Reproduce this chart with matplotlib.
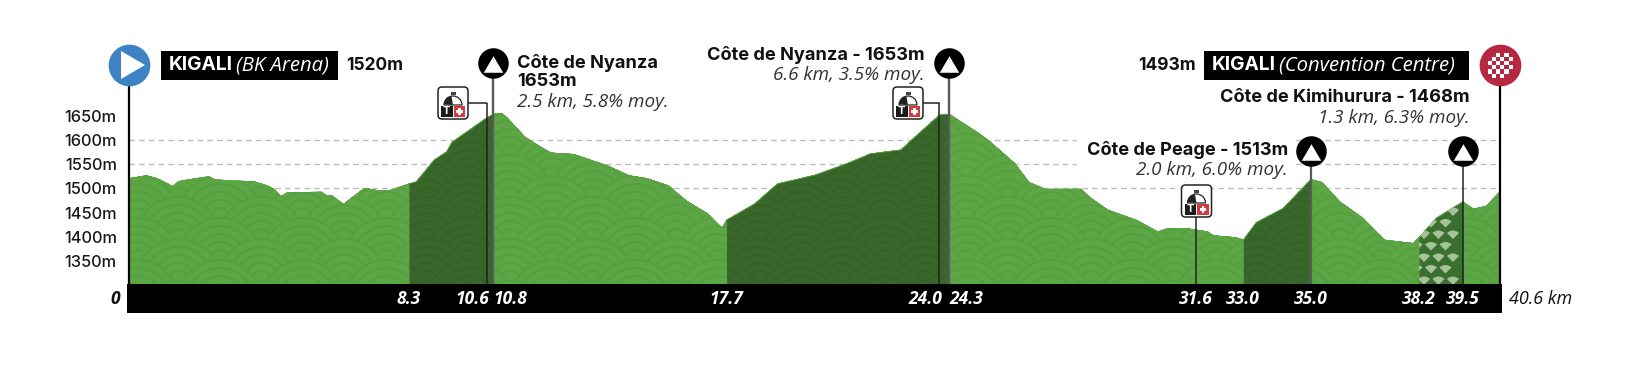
#!/usr/bin/env python3
# -*- coding: utf-8 -*-

import numpy as np
import matplotlib
matplotlib.use('Agg')
import matplotlib.pyplot as plt
from matplotlib.patches import Circle, FancyBboxPatch, Polygon, Rectangle, Wedge
from matplotlib.transforms import Affine2D, blended_transform_factory

plt.rcParams['font.family'] = ['Inter', 'Lato', 'DejaVu Sans']
ITALIC = ['Open Sans', 'Lato', 'DejaVu Sans']

# profile
km = [0, 0.53, 0.85, 1.30, 1.48, 1.90, 2.38, 2.54, 3.07, 3.70, 4.12, 4.33, 4.51, 4.70,
      5.71, 5.87, 6.03, 6.36, 6.98, 7.40, 7.77, 8.30, 8.51, 9.04, 9.41, 9.57, 9.94,
      10.57, 10.80, 11.05, 11.20, 11.73, 12.18, 12.50, 13.18, 14.19, 14.82, 15.35,
      15.99, 16.51, 17.15, 17.57, 17.70, 18.52, 19.21, 20.32, 21.27, 21.96, 22.86,
      23.28, 24.00, 24.30, 25.18, 25.50, 26.24, 26.66, 27.14, 28.20, 28.46, 28.99,
      29.84, 30.47, 30.73, 31.31, 31.95, 32.11, 32.79, 33.00, 33.38, 34.17, 35.00,
      35.33, 35.86, 36.49, 37.18, 38.03, 38.20, 38.71, 39.50, 39.82, 40.19, 40.60]
elevation = [1521, 1527, 1521, 1505, 1515, 1520, 1525, 1519, 1516, 1515, 1506, 1498, 1484, 1492,
             1493, 1485, 1485, 1468, 1501, 1496, 1497, 1510, 1514, 1559, 1576, 1596, 1614,
             1645, 1654, 1656, 1647, 1607, 1587, 1574, 1571, 1547, 1527, 1521,
             1506, 1475, 1448, 1419, 1435, 1468, 1510, 1528, 1552, 1572, 1580,
             1607, 1652, 1654, 1614, 1597, 1552, 1513, 1499, 1499, 1482, 1456,
             1435, 1411, 1417, 1418, 1411, 1403, 1399, 1394, 1430, 1459, 1519,
             1513, 1473, 1442, 1394, 1387, 1399, 1439, 1473, 1458, 1464, 1494]

y_ticks = [1350, 1400, 1450, 1500, 1550, 1600, 1650]
grid_levels = [1500, 1550, 1600]
climbs = [(8.3, 10.8), (17.7, 24.3), (33.0, 35.0)]
steep_climb = (38.2, 39.5)
total_km = 40.6
bar_labels = [(8.3, '8.3', 'center'), (10.6, '10.6', 'right'), (10.8, '10.8', 'left'),
              (17.7, '17.7', 'center'), (24.0, '24.0', 'right'), (24.3, '24.3', 'left'),
              (31.6, '31.6', 'center'), (33.0, '33.0', 'center'), (35.0, '35.0', 'center'),
              (38.2, '38.2', 'center'), (39.5, '39.5', 'center')]

GREEN = '#5ca646'
RING = '#56a040'
W, H = 1648, 370
BASE_Y = 284.3

fig = plt.figure(figsize=(W / 100, H / 100), dpi=100, facecolor='white')
ax = fig.add_axes([128.6 / W, (H - BASE_Y) / H, 1371.4 / W, 173.3 / H])
ax.set_xlim(0, total_km)
ax.set_ylim(1302, 1660)
for s in ax.spines.values():
    s.set_visible(False)
ax.set_xticks([])
ax.set_yticks(y_ticks)
ax.set_yticklabels([f'{v}m' for v in y_ticks], fontsize=11.8, color='#1a1a1a', fontweight='medium')
ax.tick_params(axis='y', length=0, pad=8.5)

# layout helpers: px is figure pixels from top left, kx is km across and pixels down
px = Affine2D().scale(1, -1).translate(0, H)
flip = Affine2D().scale(1, -1) + px
kx = blended_transform_factory(ax.transData, px)

km = np.array(km)
elevation = np.array(elevation)

# grid behind the profile, with a gap behind the Peage label
ax.hlines(grid_levels, 0, total_km, color='#bdbdbd', lw=1, linestyles=(0, (4, 3)), zorder=1)
ax.add_patch(Rectangle((1077, 132), 218, 46, transform=px, fc='white', ec='none', zorder=1.5, clip_on=False))

area = ax.fill_between(km, 1302, elevation, color=GREEN, lw=0, zorder=2)
area_path = area.get_paths()[0]

# scale pattern, painted top row first so lower rows overlap it
z = 2.1
for row, cy in enumerate(np.arange(113, 330, 21)):
    off = 178 if row % 2 == 0 else 220
    for cx in np.arange(off - 83, 1600, 83):
        for r in (42, 34, 26, 18, 10):
            c = Circle((cx, cy), r, transform=px, fc=GREEN, ec=RING, lw=1.4, zorder=z)
            ax.add_patch(c)
            c.set_clip_path(area_path, ax.transData)
            z += 1e-5

# climbs
for start, end in climbs:
    m = (km >= start) & (km <= end)
    ax.fill_between(km[m], 1302, elevation[m], color='black', alpha=0.38, lw=0, zorder=3)

# steepest part, fans on dark green
m = (km >= steep_climb[0]) & (km <= steep_climb[1])
steep = ax.fill_between(km[m], 1302, elevation[m], color='#3a6f2e', lw=0, zorder=3.1)
steep_path = steep.get_paths()[0]
for row, cy in enumerate(np.arange(212, 296, 11.5)):
    start = 1395 if row % 2 == 0 else 1402
    for cx in np.arange(start, 1460, 14.5):
        fan = Wedge((cx, -(cy + 4)), 8.5, 45, 135, transform=flip, fc='#a6c29a', ec='none', zorder=3.2)
        ax.add_patch(fan)
        fan.set_clip_path(steep_path, ax.transData)

# black distance bar
ax.add_patch(Rectangle((127, BASE_Y), 1375, 28.5, transform=px, fc='black', ec='none', zorder=4, clip_on=False))
for x, lab, ha in bar_labels:
    dx = {'right': 3, 'left': 0, 'center': 0}[ha]
    t = Affine2D().translate(dx, 0)
    ax.text(x, 299, lab, transform=kx + t, ha=ha, va='center', color='white', fontsize=12.5,
            fontweight='bold', fontstyle='italic', family=ITALIC, zorder=5)
ax.text(115, 299, '0', transform=px, ha='center', va='center', fontsize=12.5, fontweight='bold',
        fontstyle='italic', family=ITALIC, color='#111111', clip_on=False)
ax.text(1509, 299, '40.6 km', transform=px, ha='left', va='center', fontsize=13, fontstyle='italic',
        family=ITALIC, color='#111111', clip_on=False)


def vline(x, top, color='#222222', lw=1.2, zorder=3.5):
    ax.plot([x, x], [top, BASE_Y], transform=kx, color=color, lw=lw, zorder=zorder, clip_on=False,
            solid_capstyle='butt')


def climb_marker(x, y):
    ax.plot([x], [y], 'o', transform=kx, ms=22, mfc='black', mec='none', zorder=6, clip_on=False)
    ax.plot([x], [y + 1], marker=[(-1, -0.85), (1, -0.85), (0, 0.85)], transform=kx, ms=14, mfc='white',
            mec='none', zorder=7, clip_on=False)


def sprint_icon(cx, cy):
    ax.add_patch(FancyBboxPatch((cx - 13.5, cy - 14.5), 27, 29, boxstyle='round,pad=1.5,rounding_size=4',
                                transform=px, fc='white', ec='#222222', lw=1.1, zorder=6, clip_on=False))
    ax.add_patch(Wedge((cx, -(cy + 2)), 9, 0, 180, transform=flip, fc='white',
                       ec='#222222', lw=0.9, zorder=6.1, clip_on=False))
    ax.add_patch(Wedge((cx, -(cy + 2)), 9, 100, 175, transform=flip, fc='#222222',
                       ec='none', zorder=6.2, clip_on=False))
    ax.add_patch(Rectangle((cx - 2.5, cy - 11.5), 5, 3, transform=px, fc='#444444', ec='none', zorder=6.2, clip_on=False))
    ax.add_patch(Rectangle((cx - 12, cy + 3), 11.5, 10.5, transform=px, fc='#1a1a1a', ec='none', zorder=6.3, clip_on=False))
    ax.text(cx - 6.2, cy + 8.5, 'T', transform=px, ha='center', va='center', color='white', fontsize=8,
            fontweight='bold', zorder=6.4)
    ax.add_patch(Rectangle((cx + 0.5, cy + 3), 11.5, 10.5, transform=px, fc='#d63a3f', ec='none', zorder=6.3, clip_on=False))
    ax.add_patch(Rectangle((cx + 5, cy + 5), 2.5, 6.5, transform=px, fc='white', ec='none', zorder=6.4, clip_on=False))
    ax.add_patch(Rectangle((cx + 3, cy + 7), 6.5, 2.5, transform=px, fc='white', ec='none', zorder=6.4, clip_on=False))


# start and finish
vline(0, 65, color='black', lw=1.6)
vline(total_km, 65, color='black', lw=1.6)
ax.plot([0], [65], 'o', transform=kx, ms=30, mfc='#3d83c4', mec='none', zorder=6, clip_on=False)
ax.add_patch(Polygon([(121, 51), (121, 79), (145, 65)], transform=px, fc='white', ec='none', zorder=7, clip_on=False))
ax.plot([total_km], [65], 'o', transform=kx, ms=30, mfc='#b5283f', mec='none', zorder=6, clip_on=False)
for i in range(6):
    for j in range(6):
        if (i + j) % 2 == 0 and (i, j) not in [(0, 0), (5, 5)]:
            ax.add_patch(Rectangle((1487.5 + i * 4.2, 52.5 + j * 4.2), 4.2, 4.2, transform=px, fc='white',
                                   ec='none', zorder=7, clip_on=False))

# header boxes
ax.add_patch(Rectangle((160.7, 50.5), 177, 29, transform=px, fc='black', ec='none', zorder=6, clip_on=False))
ax.add_patch(Rectangle((1203.5, 50.5), 265, 29, transform=px, fc='black', ec='none', zorder=6, clip_on=False))
ax.text(168.5, 65, 'KIGALI', transform=px, ha='left', va='center', color='white', fontsize=13.8,
        fontweight='bold', zorder=7)
ax.text(236, 65, '(BK Arena)', transform=px, ha='left', va='center', color='white', fontsize=14.6,
        fontstyle='italic', family=ITALIC, zorder=7)
ax.text(1211.5, 65, 'KIGALI', transform=px, ha='left', va='center', color='white', fontsize=13.8,
        fontweight='bold', zorder=7)
ax.text(1279, 65, '(Convention Centre)', transform=px, ha='left', va='center', color='white', fontsize=14.6,
        fontstyle='italic', family=ITALIC, zorder=7)
ax.text(346, 65, '1520m', transform=px, ha='left', va='center', fontsize=12.5, fontweight='bold', color='#111111')
ax.text(1196, 65, '1493m', transform=px, ha='right', va='center', fontsize=12.5, fontweight='bold', color='#111111')

# climb markers
vline(10.8, 63, color='#5a5a5a', lw=1.7)
vline(24.3, 63, color='#5a5a5a', lw=1.7)
vline(35.0, 151, color='#5a5a5a', lw=1.6)
vline(39.5, 151, color='#222222', lw=1.1)
climb_marker(10.8, 63)
climb_marker(24.3, 63)
climb_marker(35.0, 151)
climb_marker(39.5, 151)

# sprint markers
for x, cx in [(10.6, 453), (24.0, 908)]:
    vline(x, 103, color='#222222', lw=1.1, zorder=5)
    ax.annotate('', xy=(x, 103), xycoords=kx, xytext=(cx, 103), textcoords=px,
                arrowprops=dict(arrowstyle='-', color='#222222', lw=1.1, shrinkA=0, shrinkB=0), zorder=5)
    sprint_icon(cx, 103)
vline(31.6, 201, color='#222222', lw=1.1)
sprint_icon(1196.5, 201)


def label(x, y, text, bold=True, ha='left'):
    if bold:
        ax.text(x, y, text, transform=px, ha=ha, va='center', fontsize=13.1, fontweight='bold',
                color='#111111', zorder=7)
    else:
        ax.text(x, y, text, transform=px, ha=ha, va='center', fontsize=13.6, fontstyle='italic',
                family=ITALIC, color='#333333', zorder=7)


label(517, 63, 'Côte de Nyanza')
label(517, 82, '1653m')
label(517, 102, '2.5 km, 5.8% moy.', bold=False)
label(925, 55, 'Côte de Nyanza - 1653m', ha='right')
label(925, 75, '6.6 km, 3.5% moy.', bold=False, ha='right')
label(1470, 97, 'Côte de Kimihurura - 1468m', ha='right')
label(1470, 118, '1.3 km, 6.3% moy.', bold=False, ha='right')
label(1288, 150, 'Côte de Peage - 1513m', ha='right')
label(1288, 170, '2.0 km, 6.0% moy.', bold=False, ha='right')

fig.savefig('out.png', dpi=100)
plt.close(fig)
